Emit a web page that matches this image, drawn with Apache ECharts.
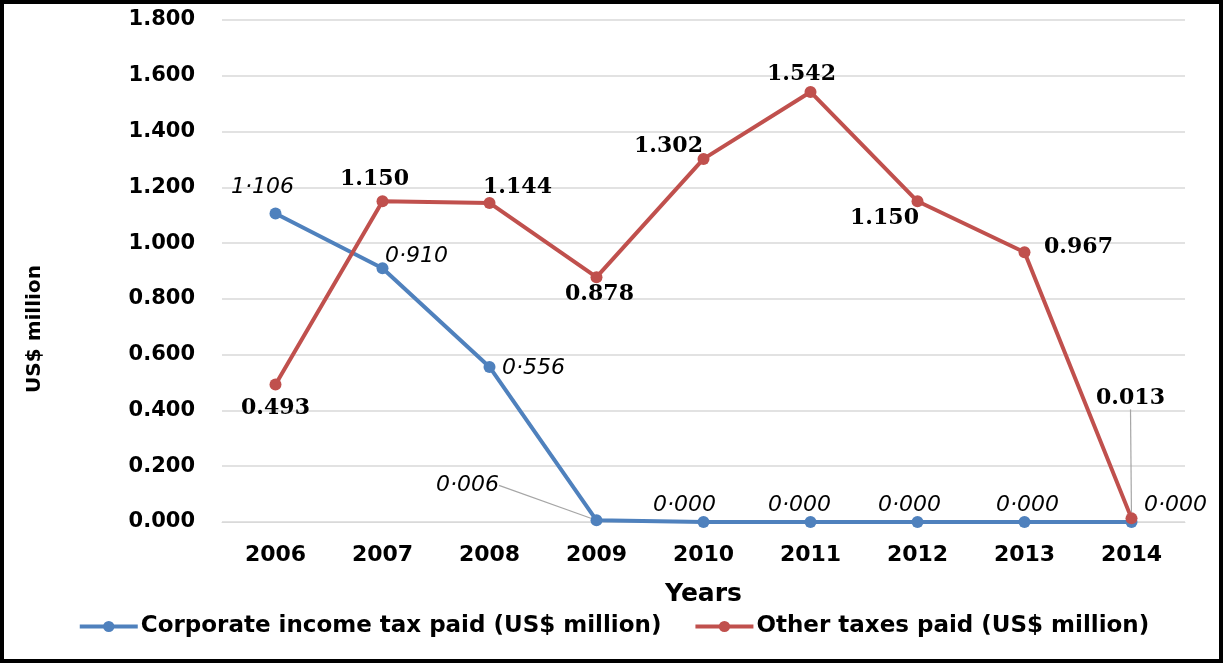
<!DOCTYPE html>
<html>
<head>
<meta charset="utf-8">
<script src="https://cdn.jsdelivr.net/npm/echarts@6/dist/echarts.min.js"></script>
<style>
  html, body { margin: 0; padding: 0; background: #fff; }
  #wrap { position: relative; width: 1227px; height: 663px; }
  #chart { position: absolute; left: 0; top: 0; width: 1227px; height: 663px; }
  #frame { position: absolute; left: 0; top: 0; width: 1223px; height: 663px;
           box-sizing: border-box; border: 4px solid #000; pointer-events: none; }
</style>
</head>
<body>
<div id="wrap">
  <div id="chart"></div>
  <div id="frame"></div>
</div>
<script>
// Years on the category axis
const years = ['2006', '2007', '2008', '2009', '2010', '2011', '2012', '2013', '2014'];

// Tax payments, US$ million
const corporateTax = [1.106, 0.910, 0.556, 0.006, 0.000, 0.000, 0.000, 0.000, 0.000];
const otherTaxes   = [0.493, 1.150, 1.144, 0.878, 1.302, 1.542, 1.150, 0.967, 0.013];

// Value-axis tick range
const yMin = 0, yMax = 1.8, yStep = 0.2;

const seriesNames = ['Corporate income tax paid (US$ million)', 'Other taxes paid (US$ million)'];

// Label shifts (px) from each point, so labels sit clear of the lines
const corpLabelShift = [[-13, -26], [34, -12], [44, 1], [-129, -35], [-19, -17], [-11, -17], [-8, -17], [3, -17], [44, -17]];
const otherLabelShift = [[0, 24], [-8, -22], [28, -16], [3, 17], [-35, -13], [-9, -18], [-33, 17], [54, -5], [-1, -120]];
// Points whose label is joined to the marker by a guide line
const corpGuide = [3];
const otherGuide = [8];

const BLUE = '#4F81BD';
const RED = '#C0504D';
const GUIDE = '#A6A6A6';

function buildData(values, guides) {
  return values.map((v, i) => {
    const item = { value: v };
    if (guides.indexOf(i) >= 0) {
      item.labelLine = { show: true, lineStyle: { color: GUIDE, width: 1.2 } };
    }
    return item;
  });
}

const chart = echarts.init(document.getElementById('chart'), null, { renderer: 'canvas' });

chart.setOption({
  animation: false,
  backgroundColor: '#fff',
  grid: { left: 222, right: 42, top: 20, bottom: 141, containLabel: false },
  legend: {
    bottom: 20,
    left: 'center',
    itemWidth: 58,
    itemHeight: 14,
    itemGap: 32,
    lineStyle: { width: 4 },
    textStyle: { fontFamily: 'DejaVu Sans', fontWeight: 'bold', fontSize: 23, color: '#000', padding: [0, 0, 0, -2] },
    data: seriesNames
  },
  xAxis: {
    type: 'category',
    data: years,
    boundaryGap: true,
    name: 'Years',
    nameLocation: 'middle',
    nameGap: 60,
    nameTextStyle: { fontFamily: 'DejaVu Sans', fontWeight: 'bold', fontSize: 25, color: '#000' },
    axisLine: { show: true, lineStyle: { color: '#D9D9D9', width: 1 } },
    axisTick: { show: false },
    axisLabel: { margin: 22, fontFamily: 'DejaVu Sans', fontWeight: 'bold', fontSize: 22, color: '#000' }
  },
  yAxis: {
    type: 'value',
    min: yMin,
    max: yMax,
    interval: yStep,
    name: 'US$ million',
    nameLocation: 'middle',
    nameGap: 177,
    nameTextStyle: { fontFamily: 'DejaVu Sans', fontWeight: 'bold', fontSize: 20, color: '#000', padding: [0, 116, 0, 0] },
    axisLine: { show: false },
    axisTick: { show: false },
    axisLabel: {
      margin: 27,
      fontFamily: 'DejaVu Sans', fontWeight: 'bold', fontSize: 21, color: '#000',
      formatter: v => v.toFixed(3)
    },
    splitLine: { lineStyle: { color: '#D9D9D9', width: 1.5 } }
  },
  series: [
    {
      name: seriesNames[0],
      type: 'line',
      data: buildData(corporateTax, corpGuide),
      symbol: 'circle',
      symbolSize: 12,
      lineStyle: { color: BLUE, width: 4 },
      itemStyle: { color: BLUE },
      z: 3,
      label: {
        show: true,
        position: 'inside',
        fontFamily: 'DejaVu Sans', fontStyle: 'italic', fontSize: 22, color: '#000',
        formatter: p => p.value.toFixed(3).replace('.', '\u00B7')
      },
      labelLine: { show: false, lineStyle: { color: GUIDE, width: 1.2 } },
      labelLayout: p => ({ dx: corpLabelShift[p.dataIndex][0], dy: corpLabelShift[p.dataIndex][1] })
    },
    {
      name: seriesNames[1],
      type: 'line',
      data: buildData(otherTaxes, otherGuide),
      symbol: 'circle',
      symbolSize: 12,
      lineStyle: { color: RED, width: 4 },
      itemStyle: { color: RED },
      z: 4,
      label: {
        show: true,
        position: 'inside',
        fontFamily: 'DejaVu Serif', fontWeight: 'bold', fontSize: 22, color: '#000',
        formatter: p => p.value.toFixed(3)
      },
      labelLine: { show: false, lineStyle: { color: GUIDE, width: 1.2 } },
      labelLayout: p => ({ dx: otherLabelShift[p.dataIndex][0], dy: otherLabelShift[p.dataIndex][1] })
    }
  ]
});
</script>
</body>
</html>
